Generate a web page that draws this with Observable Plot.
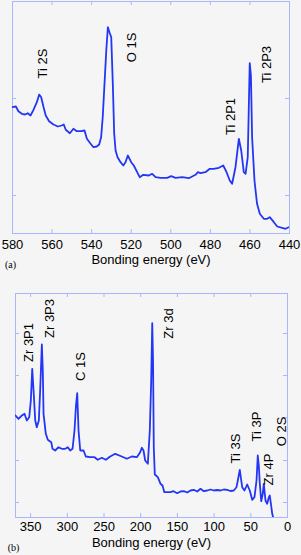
<!DOCTYPE html>
<html><head><meta charset="utf-8">
<script src="https://cdn.jsdelivr.net/npm/d3@7"></script>
<script src="https://cdn.jsdelivr.net/npm/@observablehq/plot@0.6"></script>
<style>
body{margin:0;background:#f5f5f5;width:301px;height:555px;overflow:hidden}
#chart svg{display:block}
</style></head><body><div id="chart"></div>
<script>
// Panel (a): 580–440 eV
const energyA = [580,578.3,577.0,575.3,573.6,572.3,570.9,569.4,567.7,566.5,565.5,564.3,563.2,561.5,559.3,557.1,555.1,554.1,553.1,551.0,549.2,547.5,545.3,543.6,542.4,540.7,539.1,537.4,536.2,535.2,534.4,533.5,532.6,531.8,531.0,530.1,529.3,528.6,527.9,526.9,525.4,524.0,522.9,521.7,520.0,518.7,517.0,515.7,513.9,511.1,509.4,507.7,505.2,501.8,499.8,497.6,494.2,490.9,489.2,487.5,486.3,485.0,482.5,480.3,478.3,475.7,473.5,471.8,470.2,469.0,467.3,465.6,464.4,463.1,462.2,461.1,460.6,460.1,459.5,458.9,457.7,456.4,455.0,453.0,451.3,450.0,447.9,446.2,443.7,442.0,440.4];
const countsA = [126.3,127,122.3,119.7,119,120.3,118,123.7,131.3,139,136.3,126.3,118,112.3,109,107,108,109,103.7,100.3,104.7,102.3,102.3,103,94.7,90.3,86.3,87,89,96.3,116.3,149.7,183,206.3,201.3,196.3,149.7,99.7,83,76.3,71.3,68,71.3,78,71.3,68,61.3,56.3,58.7,58,59.7,56.3,55.7,55.7,57.3,55.7,56.3,55.3,57,58.7,61.3,60.3,61.3,64.7,64.7,65.7,68,61.3,53,49.7,66.3,94.7,83,61.3,59.7,76.3,123,170.3,158,96.3,53,29.7,19.7,14.7,14.7,16.3,11.3,7,5.7,4.7,6.3];
const xTicksA = [580,560,540,520,500,480,460,440];
const yTicksA = [38,135];
const labelTextA = ["Ti 2S","O 1S","Ti 2P1","Ti 2P3"];
const labelEnergyA = [564.8,519.5,469.8,451.3];
const labelLevelA = [170,186,117,169];

// Panel (b): 370–0 eV
const energyB = [370.6,366.5,362.0,358.3,355.2,351.9,349.7,347.8,345.6,343.7,341.6,338.8,337.0,334.7,333.4,332.4,329.3,326.6,321.9,320.2,316.5,312.0,307.5,302.9,299.3,296.1,292.9,290.2,288.2,286.5,284.7,282.4,277.9,274.8,268.8,262.9,258.5,253.0,247.6,241.6,234.7,225.8,218.9,212.1,205.3,200.7,198.5,196.2,193.9,190.3,187.6,185.7,184.3,183.2,182.2,180.8,176.7,173.0,170.3,167.8,163.5,159.4,155.3,150.3,145.8,141.3,136.6,132.2,127.7,123.0,118.5,114.0,109.4,104.9,100.4,95.8,91.3,86.8,82.2,77.7,73.2,69.5,67.7,65.0,63.4,61.7,58.6,54.9,51.4,48.1,45.0,42.2,40.5,39.1,37.7,35.8,33.7,32.3,30.0,27.7,25.5,24.1,23.2,20.8,18.7];
const countsB = [102,98.7,102,103.7,97,100.3,117,148.7,122,97,90.3,97,127,173,147,103.7,83.7,77.7,75.3,68.7,67,70.3,68.7,68.7,70.3,67,68.7,87,112,124.3,87,67,67,61,60.3,60.3,57.7,59.7,57.7,61,63.7,61,58.7,61,60.3,65.3,69.7,67,57,53.7,87,137,194.3,157,70.3,43,40.3,33.7,32,25.3,25.3,25.3,26.3,24.3,26,26.3,25,27,27.7,26,28.7,26.3,27,28,27,27.5,27,28,27.7,26.5,27,30.3,37,47.7,39,30.3,27,33,27,17.7,20.3,37,62,52,33.7,16.3,23.7,33.7,17,13.7,20,22,17,3.7,-2.3];
const xTicksB = [350,300,250,200,150,100,50,0];
const yTicksB = [15,57,100,142,184];
const labelTextB = ["Zr 3P1","Zr 3P3","C 1S","Zr 3d","Ti 3S","Ti 3P","Zr 4P","O 2S"];
const labelEnergyB = [352.5,323.8,282,161.7,70.8,41.3,25.5,7.2];
const labelLevelB = [175,199,151,194,69,91,48,86];

const frameColor = "#a9b6ff";
const lineColor = "#2436f5";

function panel({energy, counts, xDomain, yDomain, xTicks, yTicks, labelText, labelEnergy, labelLevel, tag,
                height, mt, mb, ml, mr, tickPad, titleDy}) {
  const innerW = 301 - ml - mr;
  const innerH = height - mt - mb;
  return Plot.plot({
    width: 301, height,
    marginTop: mt, marginBottom: mb, marginLeft: ml, marginRight: mr,
    style: {background: "#f5f5f5", color: "#000", fontFamily: "'Liberation Sans', Arial, sans-serif", fontSize: "13px"},
    x: {domain: xDomain, label: null},
    y: {domain: yDomain, axis: null},
    marks: [
      Plot.frame({stroke: frameColor}),
      Plot.tickX(xTicks, {x: d => d, insetBottom: innerH - 4, stroke: frameColor}),
      Plot.tickX(xTicks, {x: d => d, insetTop: innerH - 4, stroke: frameColor}),
      Plot.tickY(yTicks, {y: d => d, insetRight: innerW - 4, stroke: frameColor}),
      Plot.tickY(yTicks, {y: d => d, insetLeft: innerW - 4, stroke: frameColor}),
      Plot.axisX({ticks: xTicks, tickSize: 0, tickPadding: tickPad, tickFormat: d => String(d), fontSize: 13}),
      Plot.line(energy, {x: energy, y: counts, stroke: lineColor, strokeWidth: 1.8, clip: true}),
      Plot.text(labelText, {x: labelEnergy, y: labelLevel, text: d => d, rotate: -90, fontSize: 13, fill: "#000"}),
      Plot.text(["Bonding energy (eV)"], {frameAnchor: "bottom", dy: titleDy, fontSize: 13, fill: "#000"}),
      Plot.text([tag], {frameAnchor: "bottom-left", dx: -2, dy: titleDy + 4, textAnchor: "middle", fontSize: 10, fontFamily: "'Liberation Serif', serif", fill: "#000"})
    ]
  });
}

const el = document.getElementById("chart");
el.append(panel({energy: energyA, counts: countsA, xDomain: [580, 440], yDomain: [0, 232], xTicks: xTicksA, yTicks: yTicksA,
  labelText: labelTextA, labelEnergy: labelEnergyA, labelLevel: labelLevelA, tag: "(a)",
  height: 280, mt: 1, mb: 47, ml: 12, mr: 12, tickPad: 6, titleDy: 30}));
el.append(panel({energy: energyB, counts: countsB, xDomain: [370.6, 0], yDomain: [0, 224], xTicks: xTicksB, yTicks: yTicksB,
  labelText: labelTextB, labelEnergy: labelEnergyB, labelLevel: labelLevelB, tag: "(b)",
  height: 275, mt: 13, mb: 38, ml: 15, mr: 14, tickPad: 4, titleDy: 29}));
</script>
</body></html>
